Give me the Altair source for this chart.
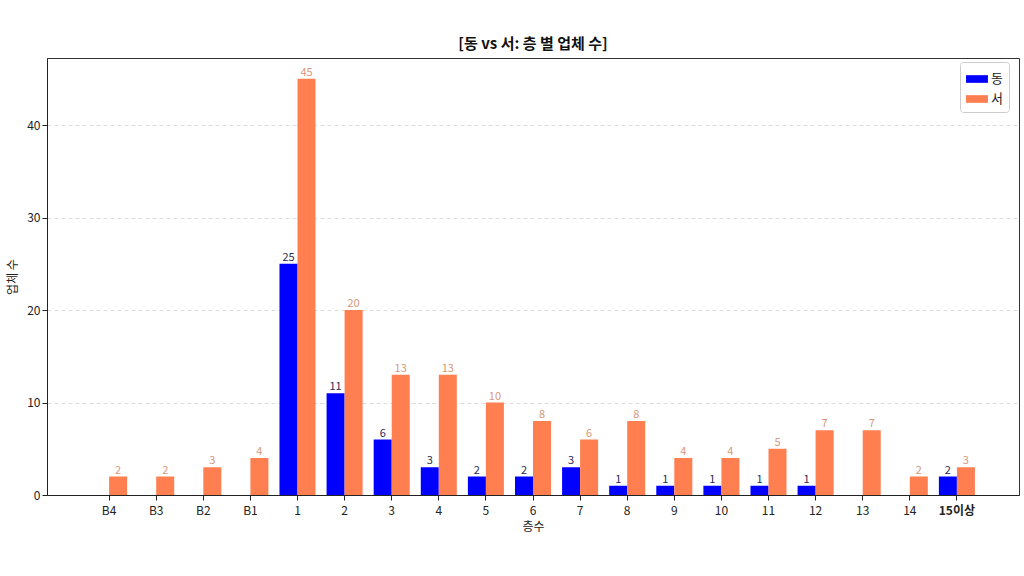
import altair as alt
import pandas as pd

floors = ["B4", "B3", "B2", "B1", "1", "2", "3", "4", "5", "6", "7", "8", "9",
          "10", "11", "12", "13", "14", "15이상"]
east = [0, 0, 0, 0, 25, 11, 6, 3, 2, 2, 3, 1, 1, 1, 1, 1, 0, 0, 2]
west = [2, 2, 3, 4, 45, 20, 13, 13, 10, 8, 6, 8, 4, 4, 5, 7, 7, 2, 3]
sides = ["동", "서"]

rows = []
for f, e, w in zip(floors, east, west):
    rows.append({"floor": f, "side": "동", "value": e})
    rows.append({"floor": f, "side": "서", "value": w})
df = pd.DataFrame(rows)

FONT = "Noto Sans CJK KR"

x_enc = alt.X(
    "floor:N", sort=floors,
    scale=alt.Scale(paddingInner=0.235, paddingOuter=0.936),
    axis=alt.Axis(
        title="층수", labelAngle=0, labelFontSize=12, titleFontSize=12,
        titleFontWeight="normal", labelColor="#222", titleColor="#222",
        labelFontWeight={"condition": {"test": "datum.value == '15이상'", "value": "bold"}, "value": "normal"},
        titlePadding=5, tickColor="#222", domainColor="#222", labelPadding=5,
        grid=False,
    ),
)
xo_enc = alt.XOffset("side:N", sort=sides, scale=alt.Scale(paddingInner=0, paddingOuter=0))
y_enc = alt.Y(
    "value:Q",
    scale=alt.Scale(domain=[0, 47.25], nice=False),
    axis=alt.Axis(
        title="업체 수", values=[0, 10, 20, 30, 40], labelFontSize=12, titleFontSize=12,
        titleFontWeight="normal", labelColor="#222", titleColor="#222",
        grid=True, gridDash=[4, 3], gridColor="#dddddd", tickColor="#222",
        domainColor="#222", titlePadding=7,
    ),
)

bars = alt.Chart(df).mark_bar().encode(
    x=x_enc, xOffset=xo_enc, y=y_enc,
    color=alt.Color(
        "side:N", sort=sides,
        scale=alt.Scale(domain=sides, range=["#0000ff", "#ff7f50"]),
        legend=alt.Legend(
            title=None, orient="none", legendX=913, legendY=4,
            labelFontSize=13, labelColor="#222",
            symbolType="M-1,-0.35L1,-0.35L1,0.35L-1,0.35Z", symbolSize=480,
            symbolStrokeWidth=0, rowPadding=2, labelOffset=3,
            strokeColor="#cccccc", fillColor="white", padding=6, cornerRadius=3,
        ),
    ),
)

labels = alt.Chart(df).transform_filter("datum.value > 0").mark_text(
    baseline="bottom", dy=-1, fontSize=11, font=FONT,
).encode(
    x=x_enc, xOffset=xo_enc, y=y_enc,
    text="value:Q",
    color=alt.condition(alt.datum.side == "동", alt.value("#2b2b55"), alt.value("#d8987a")),
)

chart = (bars + labels).properties(
    width=972, height=437,
    title=alt.TitleParams("[동 vs 서: 층 별 업체 수]", fontSize=15, fontWeight="bold",
                          font=FONT, color="#111", offset=6),
    autosize=alt.AutoSizeParams(type="none"),
    padding={"left": 47, "top": 58, "right": 5, "bottom": 81},
).configure(font=FONT).configure_view(stroke="#333", strokeWidth=1).configure_axis(
    labelFont=FONT, titleFont=FONT
).configure_legend(labelFont=FONT)

chart.save("out.html", embed_options={"renderer": "svg", "actions": False})
